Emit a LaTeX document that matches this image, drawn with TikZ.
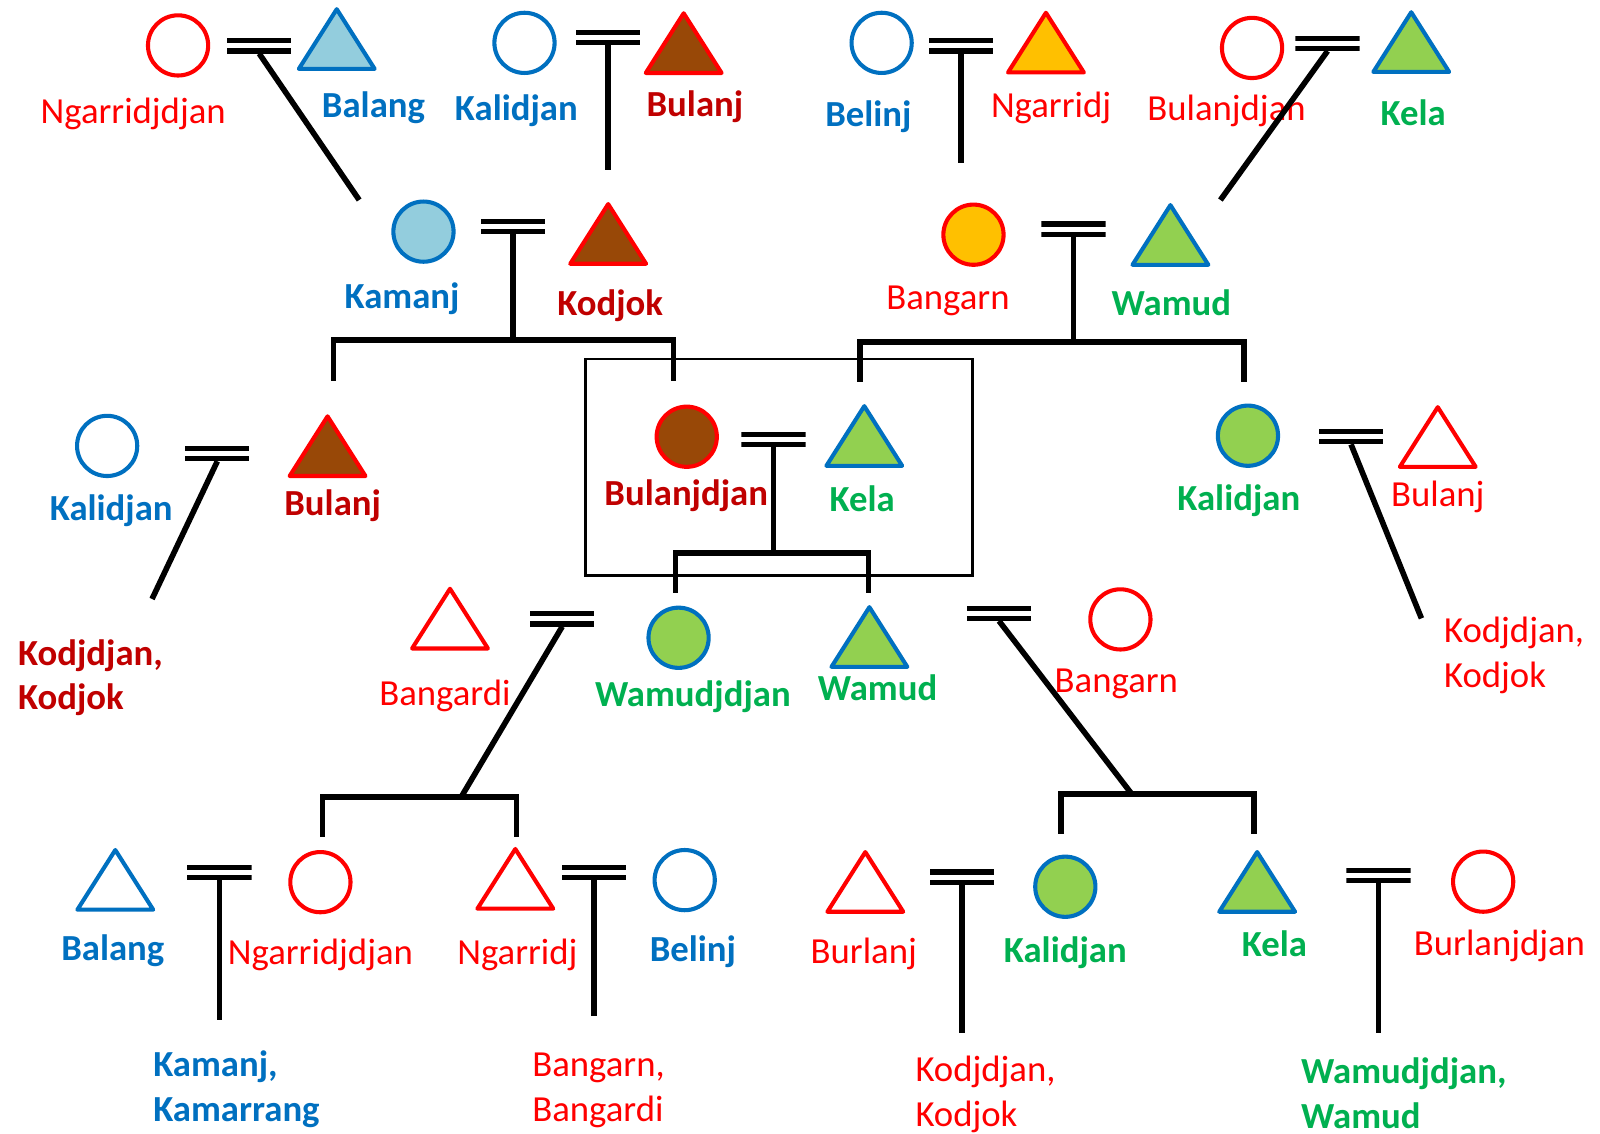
\documentclass[tikz,border=0pt]{standalone}
\usepackage{fontspec}
\setmainfont{Carlito}
\usetikzlibrary{shapes.geometric}

\definecolor{kinblue}{HTML}{0070C0}
\definecolor{kinred}{HTML}{FF0000}
\definecolor{kindark}{HTML}{C00000}
\definecolor{kingreen}{HTML}{00B050}
\definecolor{fillgreen}{HTML}{92D050}
\definecolor{fillblue}{HTML}{93CDDD}
\definecolor{fillbrown}{HTML}{984807}
\definecolor{fillorange}{HTML}{FFC000}

\tikzset{
  sym/.style={line width=4pt, inner sep=0pt, outer sep=0pt},
  fem/.style={sym, circle, minimum size=59pt},
  mal/.style={sym, regular polygon, regular polygon sides=3, minimum size=78pt,
              xscale=1.1, line join=round},
  eqsign/.style={minimum width=63pt, minimum height=15pt, inner sep=0pt, outer sep=0pt,
    fill=white,
    path picture={
      \fill[black] (path picture bounding box.north west) rectangle
                   ([yshift=-5pt]path picture bounding box.north east);
      \fill[black] ([yshift=5pt]path picture bounding box.south west) rectangle
                   (path picture bounding box.south east);
    }},
  link/.style={line width=5.5pt},
  coreframe/.style={draw, line width=2.5pt, inner sep=0pt},
  lbl/.style={anchor=base, inner sep=0pt, font=\fontsize{36}{44}\selectfont},
  nred/.style={lbl, text=kinred},
  nblue/.style={lbl, text=kinblue, font=\fontsize{36}{44}\selectfont\bfseries},
  ndark/.style={lbl, text=kindark, font=\fontsize{36}{44}\selectfont\bfseries},
  ngreen/.style={lbl, text=kingreen, font=\fontsize{36}{44}\selectfont\bfseries},
  % two-line names: positioned at the baseline of their second line
  multi/.style={anchor=base west, align=left},
}

\begin{document}
\begin{tikzpicture}[x=1pt, y=-1pt]
\fill[white] (0,0) rectangle (1568,1111);
\useasboundingbox (0,0) rectangle (1568,1111);

% central couple frame
\node[coreframe, minimum width=379pt, minimum height=212pt] (core) at (763.5,458) {};

% ---------- generation 1 ----------
\node[fem, draw=kinred, fill=white]      (g1a) at (174.5,44.5) {};
\node[mal, draw=kinblue, fill=fillblue]  (g1b) at (330,48) {};
\node[fem, draw=kinblue, fill=white]     (g1c) at (514,42) {};
\node[mal, draw=kinred, fill=fillbrown]  (g1d) at (670,52) {};
\node[fem, draw=kinblue, fill=white]     (g1e) at (864,42) {};
\node[mal, draw=kinred, fill=fillorange] (g1f) at (1025,51.5) {};
\node[fem, draw=kinred, fill=white]      (g1g) at (1227,47) {};
\node[mal, draw=kinblue, fill=fillgreen] (g1h) at (1383,51) {};

\node[nred]  (t1a) at (130.5,121) {Ngarridjdjan};
\node[nblue] (t1b) at (366,115) {Balang};
\node[nblue] (t1c) at (506,117.6) {Kalidjan};
\node[ndark] (t1d) at (681,114) {Bulanj};
\node[nblue] (t1e) at (851,123.5) {Belinj};
\node[nred]  (t1f) at (1030,115) {Ngarridj};
\node[nred]  (t1g) at (1202,117.6) {Bulanjdjan};
\node[ngreen](t1h) at (1385,122.5) {Kela};

% ---------- generation 2 ----------
\node[fem, draw=kinblue, fill=fillblue]  (g2a) at (415,227) {};
\node[mal, draw=kinred, fill=fillbrown]  (g2b) at (596,239) {};
\node[fem, draw=kinred, fill=fillorange] (g2c) at (954,230) {};
\node[mal, draw=kinblue, fill=fillgreen] (g2d) at (1147,240) {};

\node[nblue] (t2a) at (394,302) {Kamanj};
\node[ndark] (t2b) at (598,309) {Kodjok};
\node[nred]  (t2c) at (929,303) {Bangarn};
\node[ngreen](t2d) at (1148,309) {Wamud};

% ---------- generation 3 ----------
\node[fem, draw=kinblue, fill=white]     (g3a) at (105,437) {};
\node[mal, draw=kinred, fill=fillbrown]  (g3b) at (321,447) {};
\node[fem, draw=kinred, fill=fillbrown]  (g3c) at (673,428) {};
\node[mal, draw=kinblue, fill=fillgreen] (g3d) at (847,437) {};
\node[fem, draw=kinblue, fill=fillgreen] (g3e) at (1223,427) {};
\node[mal, draw=kinred, fill=white]      (g3f) at (1409,438) {};

\node[nblue] (t3a) at (109,509.6) {Kalidjan};
\node[ndark] (t3b) at (326,504.7) {Bulanj};
\node[ndark] (t3c) at (672.5,495) {Bulanjdjan};
\node[ngreen](t3d) at (845,501.4) {Kela};
\node[ngreen](t3e) at (1214,500) {Kalidjan};
\node[nred]  (t3f) at (1409,496) {Bulanj};
\node[ndark, multi] (k3a) at (17.5,695.7) {Kodjdjan,\\Kodjok};
\node[nred, multi]  (k3b) at (1415,674) {Kodjdjan,\\Kodjok};

% ---------- generation 4 ----------
\node[mal, draw=kinred, fill=white]      (g4a) at (441,616) {};
\node[fem, draw=kinblue, fill=fillgreen] (g4b) at (665,625) {};
\node[mal, draw=kinblue, fill=fillgreen] (g4c) at (852,634) {};
\node[fem, draw=kinred, fill=white]      (g4d) at (1098,607) {};

\node[nred]  (t4a) at (436,691) {Bangardi};
\node[ngreen](t4b) at (679,692.5) {Wamudjdjan};
\node[ngreen](t4c) at (860,686) {Wamud};
\node[nred]  (t4d) at (1094,678.5) {Bangarn};

% ---------- generation 5 ----------
\node[mal, draw=kinblue, fill=white]     (g5a) at (113,872) {};
\node[fem, draw=kinred, fill=white]      (g5b) at (314,864.5) {};
\node[mal, draw=kinred, fill=white]      (g5c) at (505,871) {};
\node[fem, draw=kinblue, fill=white]     (g5d) at (671,862.5) {};
\node[mal, draw=kinred, fill=white]      (g5e) at (848,874) {};
\node[fem, draw=kinblue, fill=fillgreen] (g5f) at (1044,869) {};
\node[mal, draw=kinblue, fill=fillgreen] (g5g) at (1232,874) {};
\node[fem, draw=kinred, fill=white]      (g5h) at (1453.5,864) {};

\node[nblue] (t5a) at (110.5,941) {Balang};
\node[nred]  (t5b) at (314,945) {Ngarridjdjan};
\node[nred]  (t5c) at (507,945) {Ngarridj};
\node[nblue] (t5d) at (679,942) {Belinj};
\node[nred]  (t5e) at (846.5,944) {Burlanj};
\node[ngreen](t5f) at (1044,943.4) {Kalidjan};
\node[ngreen](t5g) at (1249,937) {Kela};
\node[nred]  (t5h) at (1469.5,936) {Burlanjdjan};

\node[nblue, multi]  (k5a) at (150,1099) {Kamanj,\\Kamarrang};
\node[nred, multi]   (k5b) at (521.5,1099) {Bangarn,\\Bangardi};
\node[nred, multi]   (k5c) at (897,1104) {Kodjdjan,\\Kodjok};
\node[ngreen, multi] (k5d) at (1275,1105.5) {Wamudjdjan,\\Wamud};

% ---------- marriage signs ----------
\node[eqsign] (m1)  at (254,45) {};
\node[eqsign] (m2)  at (596,37) {};
\node[eqsign] (m3)  at (942,45) {};
\node[eqsign] (m4)  at (1301,42.5) {};
\node[eqsign] (m5)  at (503,222) {};
\node[eqsign] (m6)  at (1052,224.5) {};
\node[eqsign] (m7)  at (213,444.5) {};
\node[eqsign] (m8)  at (758,431) {};
\node[eqsign] (m9)  at (1324,428) {};
\node[eqsign] (m10) at (551,606.5) {};
\node[eqsign] (m11) at (979,601) {};
\node[eqsign] (m12) at (215,855) {};
\node[eqsign] (m13) at (582,855) {};
\node[eqsign] (m14) at (943,859.5) {};
\node[eqsign] (m15) at (1351,858) {};

% ---------- descent line ends ----------
\coordinate (c1)  at (352,196);
\coordinate (c2)  at (596,167);
\coordinate (c3)  at (942,160);
\coordinate (c4)  at (1196,196);
\coordinate (c7)  at (149,587);
\coordinate (c9)  at (1393,606);
\coordinate (c12) at (215,1000);
\coordinate (c13) at (582,996);
\coordinate (c14) at (943,1012);
\coordinate (c15) at (1351,1012);

\coordinate (s5)  at (503,333);  \coordinate (s5a)  at (327,373);  \coordinate (s5b)  at (660,373);
\coordinate (s6)  at (1052,335); \coordinate (s6a)  at (843,374);  \coordinate (s6b)  at (1219,374);
\coordinate (s8)  at (758,542);  \coordinate (s8a)  at (662,581);  \coordinate (s8b)  at (851,581);
\coordinate (s10) at (452,781);  \coordinate (s10a) at (316,820);  \coordinate (s10b) at (506,820);
\coordinate (s11) at (1109,778); \coordinate (s11a) at (1040,817); \coordinate (s11b) at (1229,817);

% ---------- connectors ----------
\draw[link] (m1.south) -- (c1);
\draw[link] (m2.south) -- (c2);
\draw[link] (m3.south) -- (c3);
\draw[link] (m4.south) -- (c4);
\draw[link] (m7.south) -- (c7);
\draw[link] (m9.south) -- (c9);
\draw[link] (m12.south) -- (c12);
\draw[link] (m13.south) -- (c13);
\draw[link] (m14.south) -- (c14);
\draw[link] (m15.south) -- (c15);

\draw[link] (m5.south) -- (s5);
\draw[link] (s5a) |- (s5) -| (s5b);
\draw[link] (m6.south) -- (s6);
\draw[link] (s6a) |- (s6) -| (s6b);
\draw[link] (m8.south) -- (s8);
\draw[link] (s8a) |- (s8) -| (s8b);
\draw[link] (m10.south) -- (s10);
\draw[link] (s10a) |- (s10) -| (s10b);
\draw[link] (m11.south) -- (s11);
\draw[link] (s11a) |- (s11) -| (s11b);
\end{tikzpicture}
\end{document}
